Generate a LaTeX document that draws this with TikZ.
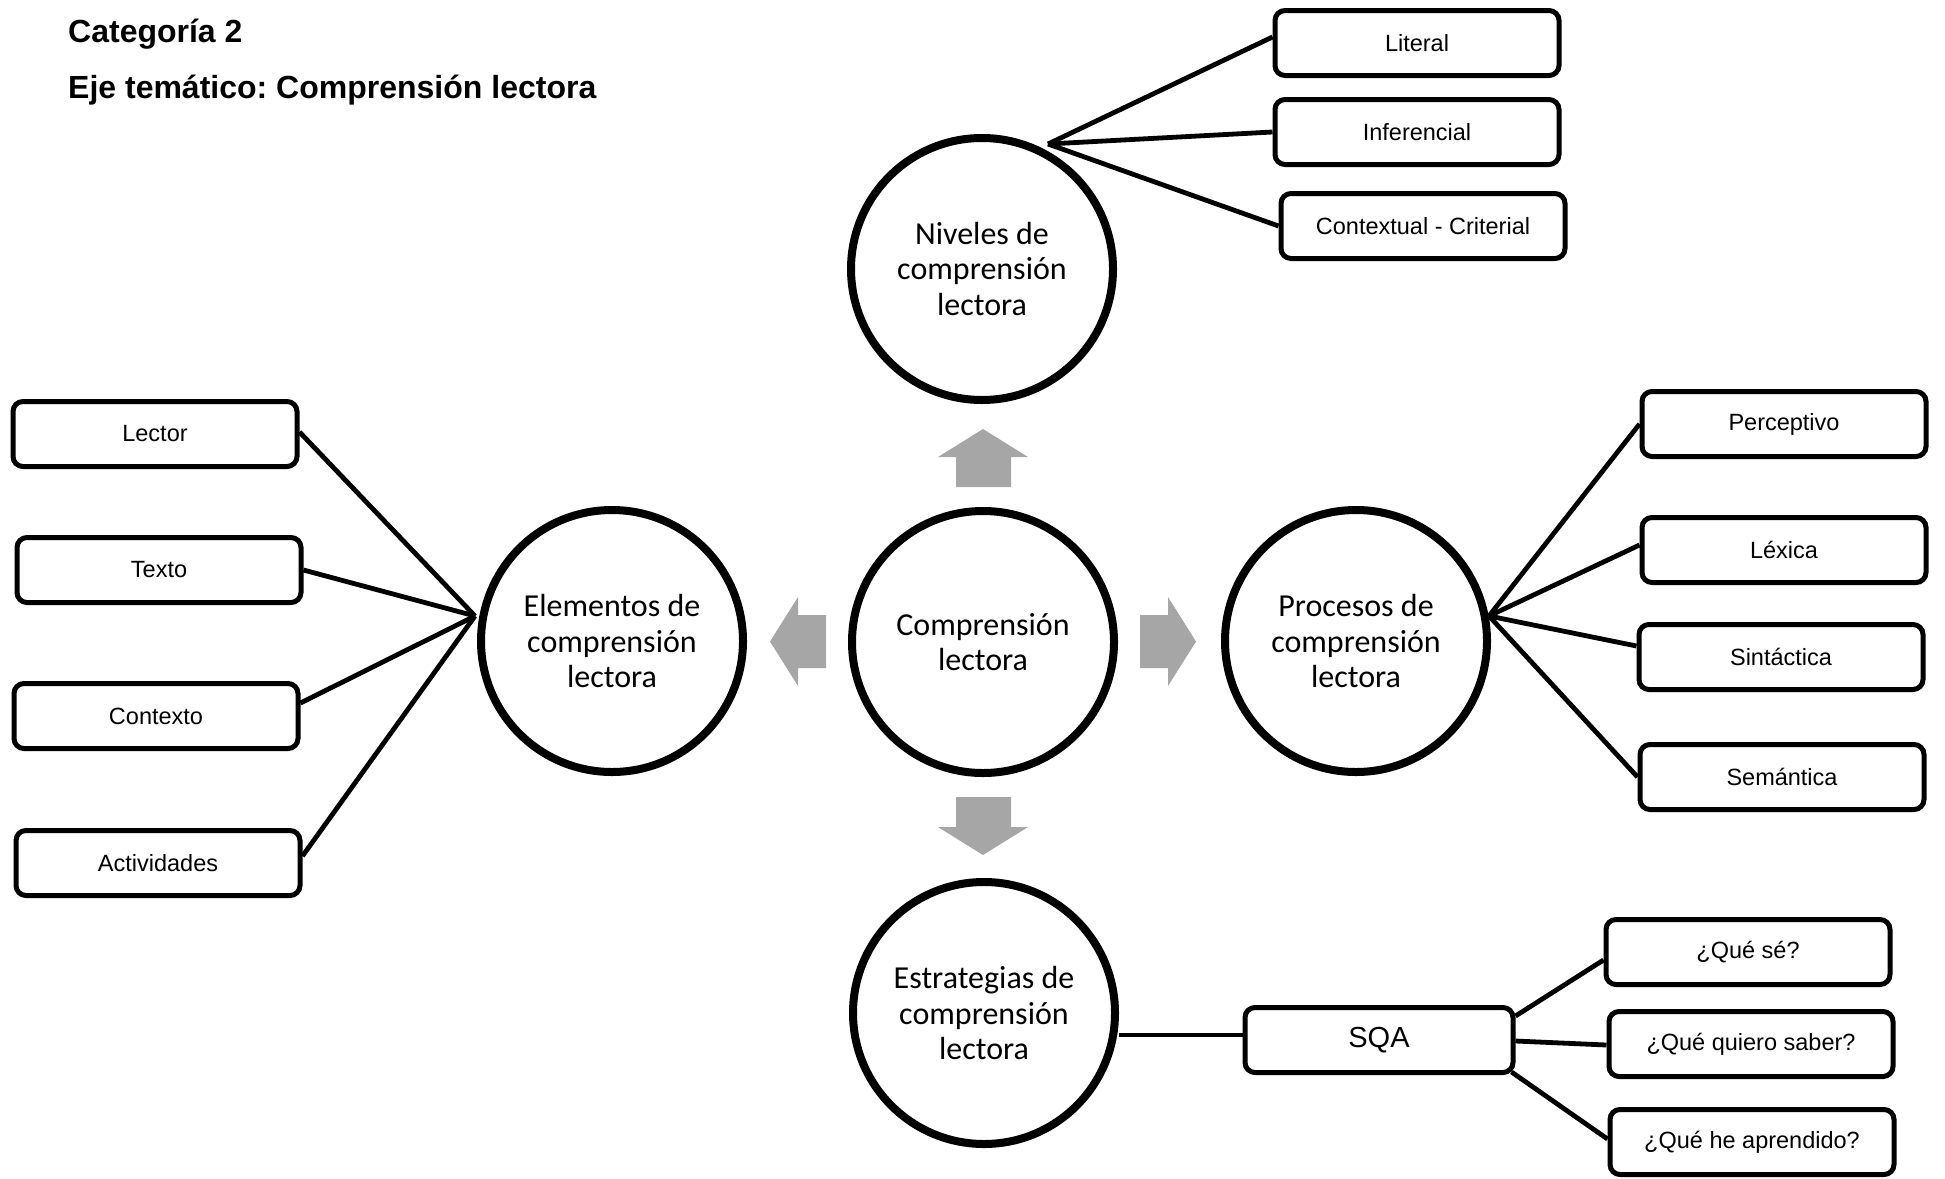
\documentclass[tikz,border=0pt]{standalone}
\usepackage{fontspec}
\setmainfont{Liberation Sans}
\newfontfamily\calfont{Carlito}
\usetikzlibrary{backgrounds}
\definecolor{arrowgray}{HTML}{A6A6A6}
\frenchspacing
\tikzset{
  bubble/.style={circle, draw=black, line width=8pt, minimum size=262pt, inner sep=0pt,
    align=center, fill=white, font=\calfont\fontsize{32}{35.5}\selectfont},
  leaf/.style={draw=black, line width=5pt, rounded corners=10pt, minimum width=284pt,
    minimum height=65pt, inner sep=0pt, fill=white, font=\fontsize{23.5}{28}\selectfont},
  link/.style={line width=4.8pt},
  bigarrow/.style={fill=arrowgray, draw=none},
  titletext/.style={anchor=base west, inner sep=0pt, font=\bfseries\fontsize{32}{36}\selectfont},
}
\begin{document}
\begin{tikzpicture}[x=1pt,y=-1pt]
\useasboundingbox (0,0) rectangle (1945,1178);

% titles
\node[titletext] (t1) at (68,42) {Categoría 2};
\node[titletext] (t2) at (68,98) {Eje temático: Comprensión lectora};

% circles
\node[bubble] (niv) at (982,269) {Niveles de\\comprensión\\lectora};
\node[bubble] (cen) at (983,642) {Comprensión\\lectora};
\node[bubble] (ele) at (612,641) {Elementos de\\comprensión\\lectora};
\node[bubble] (pro) at (1356,641) {Procesos de\\comprensión\\lectora};
\node[bubble] (est) at (984,1013) {Estrategias de\\comprensión\\lectora};

% niveles boxes
\node[leaf] (lit) at (1417,43) {Literal};
\node[leaf] (inf) at (1417,132) {Inferencial};
\node[leaf] (cc)  at (1423,226) {Contextual - Criterial};

% procesos boxes
\node[leaf] (per) at (1784,424) {Perceptivo};
\node[leaf] (lex) at (1784,550) {Léxica};
\node[leaf] (sin) at (1781,657) {Sintáctica};
\node[leaf] (sem) at (1782,777) {Semántica};

% elementos boxes
\node[leaf] (lec) at (155,434) {Lector};
\node[leaf] (tex) at (159,570) {Texto};
\node[leaf] (con) at (156,716) {Contexto};
\node[leaf] (act) at (158,863) {Actividades};

% estrategias
\node[leaf, minimum width=268pt, font=\fontsize{29}{34}\selectfont] (sqa) at (1379,1040) {SQA};
\node[leaf] (qse) at (1748,952) {¿Qué sé?};
\node[leaf] (qqs) at (1751,1044) {¿Qué quiero saber?};
\node[leaf] (qha) at (1752,1142) {¿Qué he aprendido?};

% hub points
\coordinate (nivhub) at (1048,144);
\coordinate (elehub) at (475,616);
\coordinate (prohub) at (1489,616);

\begin{scope}[on background layer]
\draw[link] (nivhub) -- ([yshift=6pt]lit.west);
\draw[link] (nivhub) -- (inf.west);
\draw[link] (nivhub) -- (cc.west);

\draw[link] (prohub) -- (per.west);
\draw[link] (prohub) -- ([yshift=5pt]lex.west);
\draw[link] (prohub) -- ([yshift=11pt]sin.west);
\draw[link] (prohub) -- (sem.west);

\draw[link] (elehub) -- ([yshift=2pt]lec.east);
\draw[link] (elehub) -- (tex.east);
\draw[link] (elehub) -- ([yshift=13pt]con.east);
\draw[link] (elehub) -- ([yshift=7pt]act.east);

\draw[link] (est.east |- 0,1035) -- (sqa.west |- 0,1035);
\draw[link] ([yshift=24pt]sqa.east) -- ([yshift=-8pt]qse.west);
\draw[link] ([yshift=-1pt]sqa.east) -- ([yshift=-1pt]qqs.west);
\draw[link] ([xshift=-4pt,yshift=3pt]sqa.south east) -- ([yshift=3pt]qha.west);
\end{scope}

% gray block arrows
\fill[bigarrow] (956,487) -- (956,457) -- (938,457) -- (983,429) -- (1028,457) -- (1011,457) -- (1011,487) -- cycle;
\fill[bigarrow] (956,797) -- (956,827) -- (938,827) -- (983,855) -- (1028,827) -- (1011,827) -- (1011,797) -- cycle;
\fill[bigarrow] (1140,615) -- (1168,615) -- (1168,597) -- (1196,641.5) -- (1168,686) -- (1168,668) -- (1140,668) -- cycle;
\fill[bigarrow] (826,615) -- (798,615) -- (798,597) -- (770,641.5) -- (798,686) -- (798,668) -- (826,668) -- cycle;
\end{tikzpicture}
\end{document}
